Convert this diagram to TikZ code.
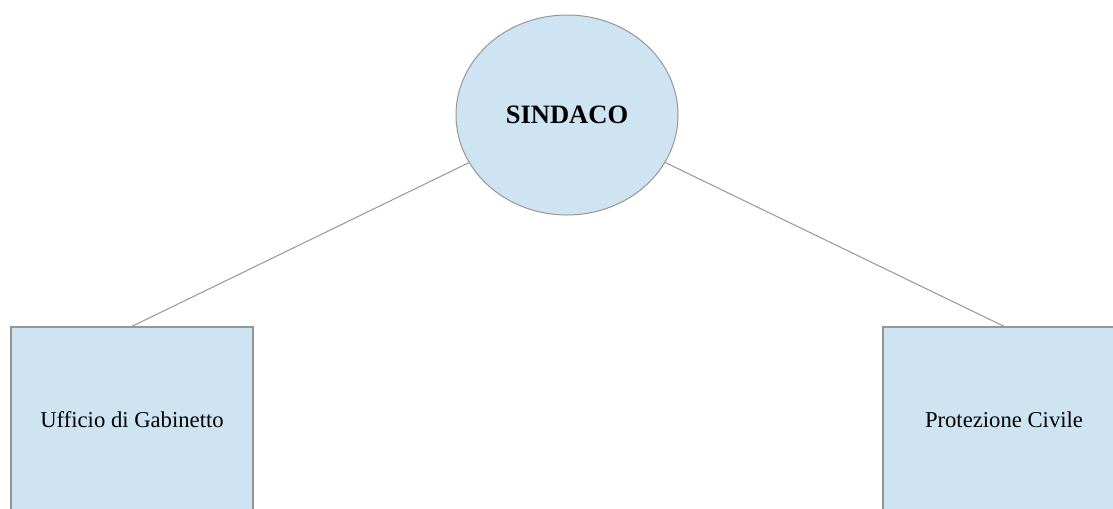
\documentclass[tikz,border=0pt]{standalone}
\usepackage{fontspec}
\setmainfont{Liberation Serif}
\usetikzlibrary{shapes.geometric}
\definecolor{boxblue}{RGB}{207,228,243}
\definecolor{edgegray}{RGB}{150,150,150}
\begin{document}
\begin{tikzpicture}[x=0.75pt,y=-0.75pt,
  capo/.style={ellipse,draw=edgegray,line width=0.75pt,fill=boxblue,minimum width=166.5pt,minimum height=150pt,inner sep=0pt,font=\fontsize{19.9}{24}\selectfont\bfseries},
  ufficio/.style={rectangle,draw=edgegray,line width=1pt,fill=boxblue,minimum width=181.5pt,minimum height=139.5pt,inner sep=0pt,font=\fontsize{17}{20}\selectfont},
  ramo/.style={draw=edgegray,line width=0.75pt}]
\useasboundingbox (0,0) rectangle (1113,508);
\clip (0,0) rectangle (1113,508);
\node[capo] (sindaco) at (567,115) {SINDACO};
\node[ufficio] (gabinetto) at (132,420) {Ufficio di Gabinetto};
\node[ufficio] (protezione) at (1004,420) {Protezione Civile};
\foreach \n in {gabinetto,protezione}{
\draw[ramo] (sindaco) -- (\n.north);}
\end{tikzpicture}
\end{document}
